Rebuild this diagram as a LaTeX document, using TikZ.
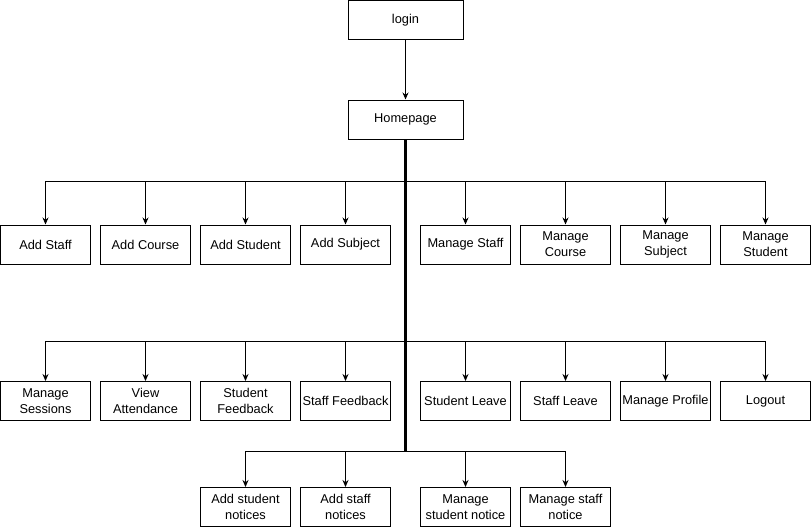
\documentclass[tikz,border=0pt]{standalone}
\usepackage{fontspec}
\setmainfont{Liberation Sans}
\usetikzlibrary{arrows.meta}
\begin{document}
\begin{tikzpicture}[x=1pt,y=-1pt,
  box/.style={draw=black,line width=1pt,fill=white,minimum width=90pt,minimum height=39pt,inner sep=1pt,align=center,font=\fontsize{12.8pt}{16pt}\selectfont},
  wbox/.style={box,minimum width=115pt},
  conn/.style={draw=black,line width=0.9pt,-{Stealth[length=7pt,width=6pt]}},
  trunk/.style={draw=black,line width=2.3pt}]
\useasboundingbox (0,0) rectangle (811,527);
\node[wbox] (login) at (405.5,20.5) {login};
\node[wbox] (home) at (405.5,119.5) {Homepage};
% row 1
\node[box] (a1) at (45.5,244.5) {Add Staff};
\node[box] (a2) at (145.5,244.5) {Add Course};
\node[box] (a3) at (245.5,244.5) {Add Student};
\node[box] (a4) at (345.5,244.5) {Add Subject};
\node[box] (a5) at (465.5,244.5) {Manage Staff};
\node[box] (a6) at (565.5,244.5) {Manage\\Course};
\node[box] (a7) at (665.5,244.5) {Manage\\Subject};
\node[box] (a8) at (765.5,244.5) {Manage\\Student};
% row 2
\node[box] (b1) at (45.5,401) {Manage\\Sessions};
\node[box] (b2) at (145.5,401) {View\\Attendance};
\node[box] (b3) at (245.5,401) {Student\\Feedback};
\node[box] (b4) at (345.5,401) {Staff Feedback};
\node[box] (b5) at (465.5,401) {Student Leave};
\node[box] (b6) at (565.5,401) {Staff Leave};
\node[box] (b7) at (665.5,401) {Manage Profile};
\node[box] (b8) at (765.5,401) {Logout};
% row 3
\node[box] (c1) at (245.5,507) {Add student\\notices};
\node[box] (c2) at (345.5,507) {Add staff\\notices};
\node[box] (c3) at (465.5,507) {Manage\\student notice};
\node[box] (c4) at (565.5,507) {Manage staff\\notice};
\coordinate (j1) at (405.5,181);
\coordinate (j2) at (405.5,341);
\coordinate (j3) at (405.5,451);
\draw[conn] (login) -- (home);
\foreach \n in {a1,a2,a3,a4,a5,a6,a7,a8}{\draw[conn] (j1) -| (\n.north);}
\foreach \n in {b1,b2,b3,b4,b5,b6,b7,b8}{\draw[conn] (j2) -| (\n.north);}
\foreach \n in {c1,c2,c3,c4}{\draw[conn] (j3) -| (\n.north);}
\draw[trunk] (home.south) -- (j3);
\end{tikzpicture}
\end{document}
